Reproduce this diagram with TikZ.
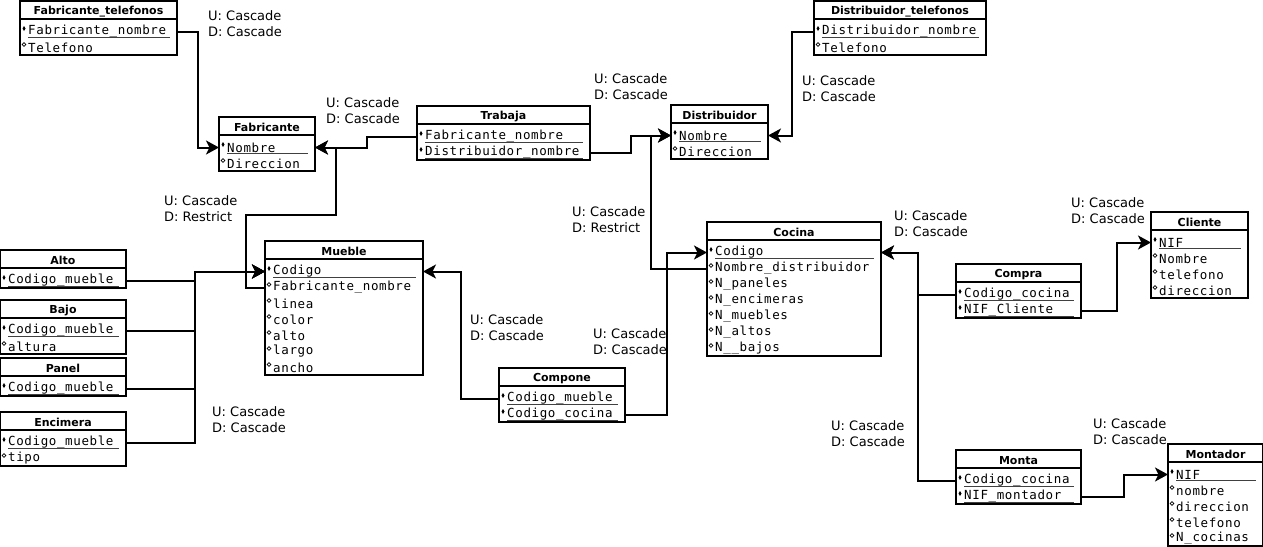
\documentclass[tikz,border=0pt]{standalone}
\usepackage{fontspec}
\usetikzlibrary{arrows.meta,calc}
\newfontfamily\sansf{DejaVu Sans}
\newfontfamily\monof[LetterSpace=5]{DejaVu Sans Mono}

% tabla: nombre, x, y, ancho, filas, titulo, campos (k = clave, a = atributo)
\newcommand{\tabla}[7]{%
  \pgfmathsetmacro\tablaalt{22+16*#5}%
  \node[caja, minimum width=#4, minimum height=\tablaalt, anchor=north west] (#1) at (#2,#3) {};
  \draw[borde] ($(#1.north west)+(0,18)$) -- ($(#1.north east)+(0,18)$);
  \node[titulo] (#1-t) at ($(#1.north)+(0,10.5)$) {#6};
  \foreach [count=\i] \t/\txt in {#7}{%
    \node[campo] (#1-\i) at ($(#1.north west)+(8,14.5+16*\i)$) {\txt};
    \if k\t
      \fill ($(#1-\i.west)+(-4,-5.5)$) -- ++(1.5,2.5) -- ++(-1.5,2.5) -- ++(-1.5,-2.5) -- cycle;
      \draw[subr] ($(#1-\i.west)+(0,6)$) -- ($(#1.east |- #1-\i)+(-7,6)$);
    \else
      \draw[line width=0.7pt] ($(#1-\i.west)+(-4,-3)$) circle (1.8);
    \fi
  }%
}

\begin{document}
\begin{tikzpicture}[x=1pt,y=-1pt,
  caja/.style={draw, line width=2pt, inner sep=0pt, outer sep=0pt},
  borde/.style={line width=2pt},
  subr/.style={line width=0.8pt, black!75},
  titulo/.style={inner sep=0pt, font=\sansf\bfseries\fontsize{11}{13}\selectfont},
  campo/.style={anchor=west, inner sep=0pt, font=\monof\fontsize{12.5}{15}\selectfont},
  etiq/.style={anchor=west, align=left, inner sep=0pt, font=\sansf\fontsize{13}{16}\selectfont},
  fk/.style={line width=2pt, -{Stealth[length=13pt,width=14pt,inset=3.5pt]}}]
  \useasboundingbox (0,0) rectangle (1263,546);

  % Tablas
  \tabla{ftel}{20}{1}{157}{2}{Fabricante\_telefonos}{k/Fabricante\_nombre, a/Telefono}
  \tabla{fab}{219}{117}{96}{2}{Fabricante}{k/Nombre, a/Direccion}
  \tabla{trab}{417}{106}{173}{2}{Trabaja}{k/Fabricante\_nombre, k/Distribuidor\_nombre}
  \tabla{dist}{671}{105}{97}{2}{Distribuidor}{k/Nombre, a/Direccion}
  \tabla{dtel}{814}{1}{172}{2}{Distribuidor\_telefonos}{k/Distribuidor\_nombre, a/Telefono}
  \tabla{mueble}{265}{241}{158}{7}{Mueble}{k/Codigo, a/Fabricante\_nombre, a/linea, a/color, a/alto, a/largo, a/ancho}
  \tabla{alto}{0}{250}{126}{1}{Alto}{k/Codigo\_mueble}
  \tabla{bajo}{0}{300}{126}{2}{Bajo}{k/Codigo\_mueble, a/altura}
  \tabla{panel}{0}{358}{126}{1}{Panel}{k/Codigo\_mueble}
  \tabla{encimera}{0}{412}{126}{2}{Encimera}{k/Codigo\_mueble, a/tipo}
  \tabla{cocina}{707}{222}{174}{7}{Cocina}{k/Codigo, a/Nombre\_distribuidor, a/N\_paneles, a/N\_encimeras, a/N\_muebles, a/N\_altos, a/N\_\_bajos}
  \tabla{compone}{499}{368}{126}{2}{Compone}{k/Codigo\_mueble, k/Codigo\_cocina}
  \tabla{compra}{956}{264}{125}{2}{Compra}{k/Codigo\_cocina, k/NIF\_Cliente}
  \tabla{cliente}{1151}{212}{97}{4}{Cliente}{k/NIF, a/Nombre, a/telefono, a/direccion}
  \tabla{monta}{956}{450}{125}{2}{Monta}{k/Codigo\_cocina, k/NIF\_montador}
  \tabla{montador}{1168}{444}{95}{5}{Montador}{k/NIF, a/nombre, a/direccion, a/telefono, a/N\_cocinas}

  % Claves ajenas
  \draw[fk] (ftel.east |- ftel-1) -- ++(21,0) |- (fab.west |- fab-1);
  \draw[fk] (trab.west |- trab-1) -- ++(-50,0) |- (fab.east |- fab-1);
  \draw[fk] (mueble.west |- mueble-2) -- ++(-19,0) |- ++(90,-73) |- (fab.east |- fab-1);
  \draw[fk] (trab.east |- trab-2) -- ++(41,0) |- (dist.west |- dist-1);
  \draw[fk] (cocina.west |- cocina-2) -- ++(-56,0) |- (dist.west |- dist-1);
  \draw[fk] (dtel.west |- dtel-1) -- ++(-22,0) |- (dist.east |- dist-1);
  \foreach \s in {alto,bajo,panel,encimera}
    \draw[fk] (\s.east |- \s-1) -- ++(69,0) |- (mueble.west |- mueble-1);
  \draw[fk] (compone.west |- compone-1) -- ++(-38,0) |- (mueble.east |- mueble-1);
  \draw[fk] (compone.east |- compone-2) -- ++(42,0) |- (cocina.west |- cocina-1);
  \draw[fk] (compra.west |- compra-1) -- ++(-38,0) |- (cocina.east |- cocina-1);
  \draw[fk] (monta.west |- monta-1) -- ++(-38,0) |- (cocina.east |- cocina-1);
  \draw[fk] (compra.east |- compra-2) -- ++(36,0) |- (cliente.west |- cliente-1);
  \draw[fk] (monta.east |- monta-2) -- ++(43,0) |- (montador.west |- montador-1);

  % Reglas de integridad
  \node[etiq] (e-ftel) at (208,24) {U: Cascade\\D: Cascade};
  \node[etiq] (e-trab1) at (326,111) {U: Cascade\\D: Cascade};
  \node[etiq] (e-mueble) at (164,209) {U: Cascade\\D: Restrict};
  \node[etiq] (e-trab2) at (594,87) {U: Cascade\\D: Cascade};
  \node[etiq] (e-dtel) at (802,89) {U: Cascade\\D: Cascade};
  \node[etiq] (e-cocina) at (572,220) {U: Cascade\\D: Restrict};
  \node[etiq] (e-sub) at (212,420) {U: Cascade\\D: Cascade};
  \node[etiq] (e-comp1) at (470,328) {U: Cascade\\D: Cascade};
  \node[etiq] (e-comp2) at (593,342) {U: Cascade\\D: Cascade};
  \node[etiq] (e-compra1) at (894,224) {U: Cascade\\D: Cascade};
  \node[etiq] (e-compra2) at (1071,211) {U: Cascade\\D: Cascade};
  \node[etiq] (e-monta1) at (831,434) {U: Cascade\\D: Cascade};
  \node[etiq] (e-monta2) at (1093,432) {U: Cascade\\D: Cascade};
\end{tikzpicture}
\end{document}
